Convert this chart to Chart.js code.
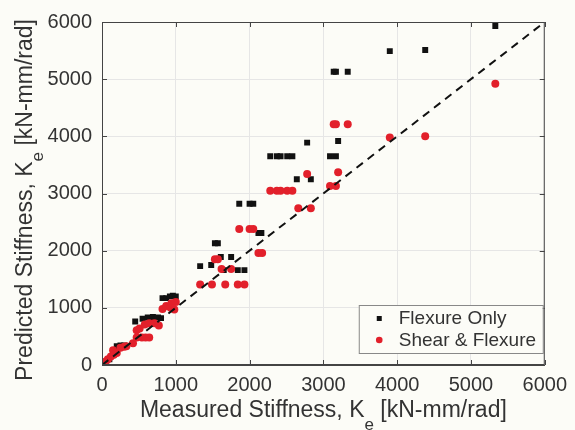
<!DOCTYPE html>
<html lang="en">
<head>
<meta charset="UTF-8">
<title>Predicted vs Measured Stiffness</title>
<script src="https://cdn.jsdelivr.net/npm/chart.js"></script>
<style>
  body { margin: 0; background: #fcfcf7; }
  canvas { display: block; }
</style>
</head>
<body>
<canvas id="chart" width="575" height="430"></canvas>
<script>
    // Values (kN-mm/rad)
    const flexX = [5330, 4380, 3900, 3140, 3170, 3330, 2780, 3200, 3090, 3170, 2640, 2830,
                   2280, 2370, 2420, 2510, 2580, 1860, 2000, 2050, 2120, 2160, 1530, 1570,
                   1330, 1480, 1610, 1750, 1650, 1840, 1930, 820, 870, 920, 960, 1000,
                   450, 550, 620, 690, 760, 800, 200, 250, 300, 40, 100];
    const flexY = [5930, 5510, 5490, 5130, 5130, 5130, 3890, 3920, 3650, 3650, 3250, 3250,
                   3650, 3650, 3650, 3650, 3650, 2820, 2820, 2820, 2310, 2310, 2130, 2130,
                   1730, 1750, 1890, 1890, 1660, 1660, 1660, 1170, 1170, 1200, 1210, 1200,
                   760, 810, 830, 840, 830, 820, 330, 340, 340, 50, 100];

    const shearX = [5330, 4380, 3900, 3140, 3170, 3330, 2780, 3200, 3090, 3170, 2660, 2830,
                    2280, 2370, 2420, 2510, 2580, 1860, 2000, 2050, 2120, 2170, 1530, 1570,
                    1620, 1750, 1330, 1490, 1670, 1840, 1930, 820, 870, 940, 1000, 980, 930,
                    470, 510, 580, 640, 710, 770, 420, 470, 540, 590, 640,
                    150, 200, 250, 300, 330, 20, 50, 80, 120, 160];
    const shearY = [4920, 4000, 3980, 4210, 4210, 4210, 3340, 3370, 3130, 3130, 2740, 2740,
                    3050, 3050, 3050, 3050, 3050, 2380, 2380, 2380, 1960, 1960, 1850, 1850,
                    1680, 1680, 1410, 1410, 1410, 1410, 1410, 980, 1030, 1080, 1100, 970, 1000,
                    610, 640, 710, 730, 730, 690, 380, 480, 480, 480, 480,
                    260, 210, 300, 320, 330, 30, 60, 100, 150, 180];

    // 1:1 reference line
    const refX = [0, 6000];
    const refY = [0, 6000];

    const axisTicks = [0, 1000, 2000, 3000, 4000, 5000, 6000];

    const FONT = "'Liberation Sans', Arial, Helvetica, sans-serif";
    const TEXT = '#333333';
    const AXIS = '#444444';

    function pts(xs, ys) {
        return xs.map((x, i) => ({ x: x, y: ys[i] }));
    }

    // Draw a label with a subscript "e" after the K
    function subLabel(ctx, before, sub, after, size, subSize, drop) {
        ctx.font = size + 'px ' + FONT;
        const w1 = ctx.measureText(before).width;
        const w3 = ctx.measureText(after).width;
        ctx.font = subSize + 'px ' + FONT;
        const w2 = ctx.measureText(sub).width;
        let x = -(w1 + w2 + w3) / 2;
        ctx.textAlign = 'left';
        ctx.textBaseline = 'alphabetic';
        ctx.font = size + 'px ' + FONT;
        ctx.fillText(before, x, 0);
        x += w1;
        ctx.font = subSize + 'px ' + FONT;
        ctx.fillText(sub, x, drop);
        x += w2;
        ctx.font = size + 'px ' + FONT;
        ctx.fillText(after, x, 0);
    }

    const decorations = {
        id: 'decorations',
        afterDraw(chart) {
            const ctx = chart.ctx;
            const ca = chart.chartArea;
            const xs = chart.scales.x, ys = chart.scales.y;

            // axes box and inward ticks
            ctx.save();
            ctx.strokeStyle = AXIS;
            ctx.lineWidth = 1;
            ctx.strokeRect(ca.left + 0.5, ca.top + 0.5, ca.right - ca.left - 1, ca.bottom - ca.top - 1);
            ctx.beginPath();
            axisTicks.forEach(v => {
                const px = Math.round(xs.getPixelForValue(v)) + 0.5;
                ctx.moveTo(px, ca.bottom); ctx.lineTo(px, ca.bottom - 5);
                ctx.moveTo(px, ca.top); ctx.lineTo(px, ca.top + 5);
                const py = Math.round(ys.getPixelForValue(v)) + 0.5;
                ctx.moveTo(ca.left, py); ctx.lineTo(ca.left + 5, py);
                ctx.moveTo(ca.right, py); ctx.lineTo(ca.right - 5, py);
            });
            ctx.stroke();

            // axis titles
            ctx.fillStyle = TEXT;
            ctx.save();
            ctx.translate((ca.left + ca.right) / 2, 417);
            subLabel(ctx, 'Measured Stiffness, K', 'e', ' [kN-mm/rad]', 23, 17, 13);
            ctx.restore();

            ctx.save();
            ctx.translate(32, 200);
            ctx.rotate(-Math.PI / 2);
            subLabel(ctx, 'Predicted Stiffness, K', 'e', ' [kN-mm/rad]', 23, 17, 11);
            ctx.restore();

            // legend box in the lower right corner
            const bx = ca.right - 186, by = ca.bottom - 60, bw = 184, bh = 48;
            ctx.fillStyle = '#fcfcf7';
            ctx.fillRect(bx, by, bw, bh);
            ctx.strokeStyle = '#888888';
            ctx.strokeRect(bx + 0.5, by + 0.5, bw, bh);

            const flexDs = chart.data.datasets[2];
            const shearDs = chart.data.datasets[1];
            ctx.fillStyle = flexDs.backgroundColor;
            ctx.fillRect(bx + 18, by + 11, 5, 5);
            ctx.fillStyle = shearDs.backgroundColor;
            ctx.beginPath();
            ctx.arc(bx + 20.5, by + 35, 3.3, 0, Math.PI * 2);
            ctx.fill();

            ctx.fillStyle = TEXT;
            ctx.font = '19px ' + FONT;
            ctx.textAlign = 'left';
            ctx.textBaseline = 'middle';
            ctx.fillText(flexDs.label, bx + 40, by + 14);
            ctx.fillText(shearDs.label, bx + 40, by + 36);
            ctx.restore();
        }
    };

    function axisOpts(isX) {
        return {
            type: 'linear',
            min: axisTicks[0],
            max: axisTicks[axisTicks.length - 1],
            afterBuildTicks: s => { s.ticks = axisTicks.map(v => ({ value: v })); },
            afterFit: s => { if (isX) s.height = 65; else s.width = 102; },
            grid: { color: '#e6e6e6', drawTicks: false },
            border: { display: true, color: AXIS },
            ticks: {
                font: { family: FONT, size: 20 },
                color: TEXT,
                padding: isX ? 8 : 10,
                maxRotation: 0,
                autoSkip: false,
                callback: v => String(v)
            }
        };
    }

    new Chart(document.getElementById('chart').getContext('2d'), {
        type: 'scatter',
        data: {
            datasets: [
                {
                    type: 'line',
                    label: '1:1',
                    data: pts(refX, refY),
                    borderColor: '#111111',
                    borderWidth: 2,
                    borderDash: [8, 6],
                    pointRadius: 0,
                    fill: false,
                    order: 0
                },
                {
                    label: 'Shear & Flexure',
                    data: pts(shearX, shearY),
                    pointStyle: 'circle',
                    pointRadius: 4,
                    backgroundColor: '#e2202b',
                    borderWidth: 0,
                    order: 1
                },
                {
                    label: 'Flexure Only',
                    data: pts(flexX, flexY),
                    pointStyle: 'rect',
                    pointRadius: 4.2,
                    backgroundColor: '#111111',
                    borderWidth: 0,
                    order: 2
                }
            ]
        },
        options: {
            responsive: false,
            animation: false,
            devicePixelRatio: 1,
            layout: { padding: { left: 0, right: 26, top: 19, bottom: 0 } },
            plugins: {
                legend: { display: false },
                tooltip: { enabled: false }
            },
            scales: {
                x: axisOpts(true),
                y: axisOpts(false)
            }
        },
        plugins: [decorations]
    });
</script>
</body>
</html>
